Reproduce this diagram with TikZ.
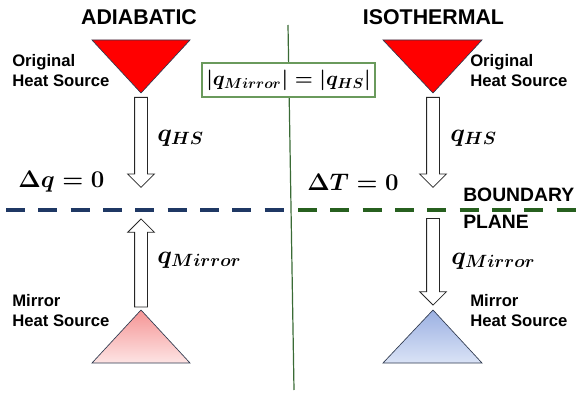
\RequirePackage{fix-cm}
\documentclass[tikz,border=0pt]{standalone}
\usepackage{fontspec}
\usepackage{amsmath}
\usepackage{bm}
\usetikzlibrary{
  arrows.meta,
  shapes,
  shapes.arrows,
  positioning,
  calc
}
\newfontfamily\labelfont{Liberation Sans}
\definecolor{hsRed}{HTML}{FF0000}
\definecolor{hsEdge}{HTML}{2F3A4F}
\definecolor{mirPinkTop}{HTML}{F59494}
\definecolor{mirPinkBot}{HTML}{FDE4E4}
\definecolor{mirBlueTop}{HTML}{9BB0E2}
\definecolor{mirBlueBot}{HTML}{DAE3F6}
\definecolor{bndBlue}{HTML}{1F3864}
\definecolor{bndGreen}{HTML}{27601F}
\definecolor{divGreen}{HTML}{3A6B35}
\definecolor{boxGreen}{HTML}{6A9A5C}
\tikzset{
  titletext/.style={font=\labelfont\bfseries\fontsize{16}{18}\selectfont, inner sep=0pt},
  srclabel/.style={font=\labelfont\bfseries\fontsize{12.5}{15}\selectfont,
    align=left, anchor=west, inner sep=0pt},
  bndlabel/.style={font=\labelfont\bfseries\fontsize{14.5}{16}\selectfont,
    anchor=west, inner sep=0pt},
  mathlabel/.style={font=\boldmath\fontsize{19}{22}\selectfont, inner sep=0pt, anchor=west},
  deltalabel/.style={mathlabel, font=\boldmath\fontsize{18}{21}\selectfont},
  heatarrow/.style={
    single arrow, draw=black!85, fill=white, line width=0.6pt,
    single arrow head extend=5.25pt, inner sep=4.5pt, anchor=tail
  },
  hsource/.style={draw=hsEdge, line width=0.5pt, fill=hsRed},
  mirpink/.style={draw=hsEdge, line width=0.5pt, top color=mirPinkTop, bottom color=mirPinkBot},
  mirblue/.style={draw=hsEdge, line width=0.5pt, top color=mirBlueTop, bottom color=mirBlueBot},
  bndline/.style={line width=3.2pt, dash pattern=on 14.25pt off 10pt},
  divline/.style={line width=0.9pt, divGreen},
  eqbox/.style={draw=boxGreen, fill=white, line width=0.8pt,
    minimum width=129.75pt, minimum height=25.5pt,
    font=\boldmath\fontsize{15.5}{17}\selectfont, inner sep=2pt}
}
\begin{document}
\begin{tikzpicture}[x=0.75pt, y=-0.75pt]
  \useasboundingbox (0,0) rectangle (577,395);

  % divider
  \coordinate (divTop) at (288,25);
  \coordinate (divBot) at (294,390);
  \draw[divline] (divTop) -- (divBot);

  % titles
  \node[titletext] (adiab) at (139,17.5) {ADIABATIC};
  \node[titletext] (isoth) at (433.5,17.5) {ISOTHERMAL};

  % original heat sources
  \coordinate (hsL) at (141,93);
  \coordinate (hsR) at (433,93);
  \draw[hsource] (hsL) -- ++(-49,-53) -- ++(98,0) -- cycle;
  \draw[hsource] (hsR) -- ++(-50,-53) -- ++(99,0) -- cycle;
  \node[srclabel] (origL) at (12,71) {Original\\Heat Source};
  \node[srclabel] (origR) at (470,71) {Original\\Heat Source};

  % equality box
  \node[eqbox] (eq) at (288.5,80) {$|q_{Mirror}| = |q_{HS}|$};

  % boundary plane
  \coordinate (bL) at (141,210);
  \coordinate (bR) at (433,210);
  \draw[bndline, bndBlue] (6,210) -- (290,210);
  \draw[bndline, bndGreen] (298,210) -- (577,210);
  \node[bndlabel] (bnd) at (463,195) {BOUNDARY};
  \node[bndlabel] (pln) at (463,222) {PLANE};

  % mirror heat sources
  \coordinate (msL) at (141,310);
  \coordinate (msR) at (433,310);
  \draw[mirpink] (msL) -- ++(-49,53) -- ++(98,0) -- cycle;
  \draw[mirblue] (msR) -- ++(-50,53) -- ++(99,0) -- cycle;
  \node[srclabel] (mirL) at (12,311) {Mirror\\Heat Source};
  \node[srclabel] (mirR) at (470,311) {Mirror\\Heat Source};

  % heat flow arrows
  \node[heatarrow, rotate=-90, minimum height=67.5pt] (aHSL) at ([yshift=-3pt]hsL) {};
  \node[heatarrow, rotate=-90, minimum height=67.5pt] (aHSR) at ([yshift=-3pt]hsR) {};
  \node[heatarrow, rotate=90, minimum height=66pt] (aMirL) at ([yshift=2pt]msL) {};
  \node[heatarrow, rotate=-90, minimum height=65pt] (aMirR) at ([yshift=-6pt]bR) {};

  % flux labels
  \node[mathlabel] (qHSL) at (157,138) {$q_{HS}$};
  \node[mathlabel] (qHSR) at (450,138) {$q_{HS}$};
  \node[mathlabel] (qMirL) at (157,260) {$q_{Mirror}$};
  \node[mathlabel] (qMirR) at (451,261) {$q_{Mirror}$};
  \node[deltalabel] (dq) at (18,182) {$\Delta q = 0$};
  \node[deltalabel] (dT) at (307,182) {$\Delta T = 0$};
\end{tikzpicture}
\end{document}
